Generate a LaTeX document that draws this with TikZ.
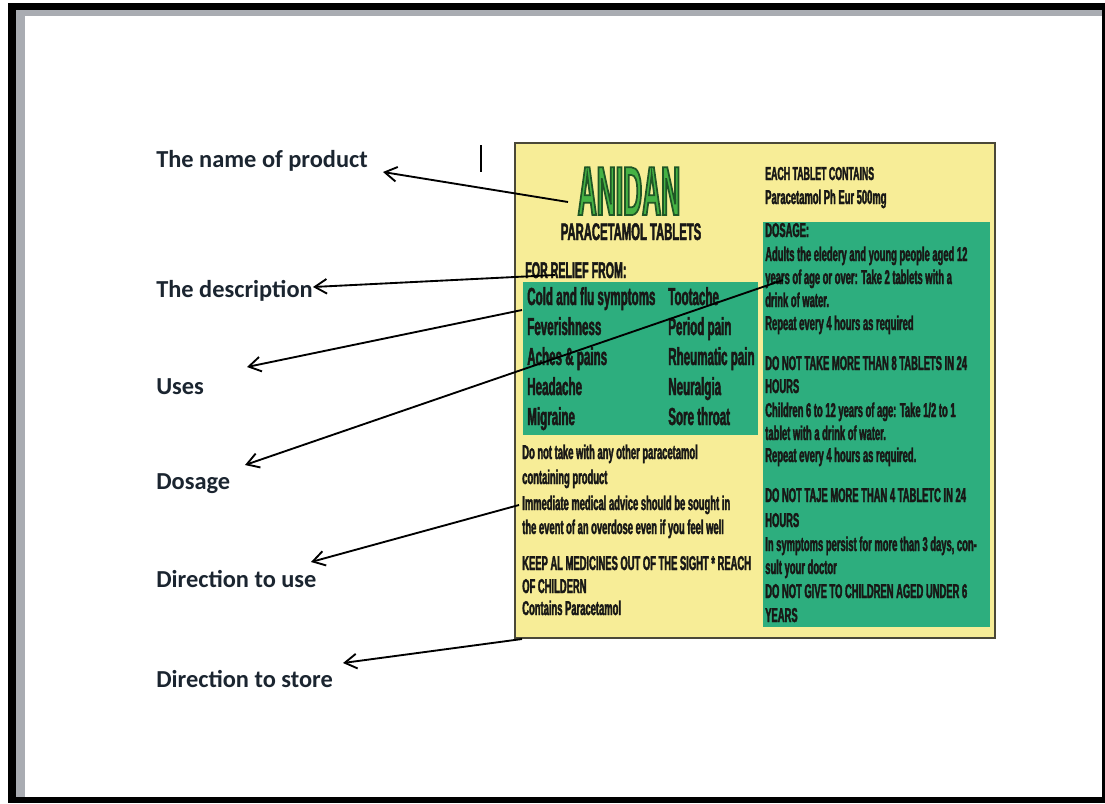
\documentclass[tikz,border=0pt]{standalone}
\usepackage{fontspec}
\setmainfont{Carlito}
\newfontfamily\packfont{Liberation Sans}[FakeStretch=0.47, BoldFeatures={FakeBold=1.8}]
\newfontfamily\brandfont{Liberation Sans}[FakeStretch=0.38]
\usetikzlibrary{arrows.meta}

\definecolor{pagegray}{RGB}{169,172,178}
\definecolor{cardyellow}{RGB}{247,237,151}
\definecolor{cardgreen}{RGB}{45,174,126}
\definecolor{cardedge}{RGB}{74,72,56}
\definecolor{brandgreen}{RGB}{70,178,68}
\definecolor{inkdark}{RGB}{24,24,22}
\definecolor{labelink}{RGB}{27,37,48}

% outlined brand lettering: fill in text colour, dark stroke round it
\newcommand{\outlined}[1]{\special{pdf:code 2 Tr 0.12 0.34 0.15 RG 1.3 w}#1\special{pdf:code 0 Tr}}

\tikzset{
  caption/.style={anchor=base west, inner sep=0pt, text=labelink, font=\bfseries\fontsize{18.3}{22}\selectfont},
  cardtext/.style={anchor=base west, inner sep=0pt, text=inkdark, font=\packfont\bfseries\fontsize{15}{18}\selectfont},
  usetext/.style={anchor=base west, inner sep=0pt, text=inkdark, font=\packfont\bfseries\fontsize{18.5}{22}\selectfont},
  headtext/.style={anchor=base, inner sep=0pt, text=inkdark, font=\packfont\bfseries\fontsize{18}{22}\selectfont},
  brand/.style={anchor=base, inner sep=0pt, text depth=0pt, text=brandgreen, font=\brandfont\bfseries\fontsize{52}{60}\selectfont},
  pointer/.style={line width=1.4pt, -{Straight Barb[length=9pt,width=11pt]}},
}

\begin{document}
\begin{tikzpicture}[x=0.75pt,y=0.75pt,yscale=-1,xscale=1]
\useasboundingbox (0,0) rectangle (1105,803);

%Page frame
\fill[black] (8,3) rectangle (1105,803);
\fill[pagegray] (16,10) rectangle (1102,797);
\fill[white] (25,16) rectangle (1102,797);

%Shape: label card
\draw[cardedge, fill=cardyellow, line width=1.5pt] (515,143) rectangle (995,638);
%Shape: uses panel
\fill[cardgreen] (523,282) rectangle (758,435);
%Shape: dosage panel
\fill[cardgreen] (763,222) rectangle (990,627);

%Cursor mark
\draw[line width=1.6pt] (481,145) -- (481,172);

% Text Node
\draw (629,215) node [brand] (anidan) {\outlined{ANIDAN}};
% Text Node
\draw (631,240) node [headtext] (tablets) {PARACETAMOL TABLETS};
% Text Node
\draw (525,278) node [cardtext, font=\packfont\bfseries\fontsize{17}{20}\selectfont] (relief) {FOR RELIEF FROM:};

% Uses list
\draw (527,305) node [usetext] (cold) {Cold and flu symptoms};
\draw (527,335) node [usetext] (fever) {Feverishness};
\draw (527,365) node [usetext] (aches) {Aches \& pains};
\draw (527,395) node [usetext] (head) {Headache};
\draw (527,425) node [usetext] (migraine) {Migraine};
\draw (668,305) node [usetext] (tooth) {Tootache};
\draw (668,335) node [usetext] (period) {Period pain};
\draw (668,365) node [usetext] (rheum) {Rheumatic pain};
\draw (668,395) node [usetext] (neur) {Neuralgia};
\draw (668,425) node [usetext] (throat) {Sore throat};

% Warnings
\draw (522,459) node [cardtext] (warn1) {Do not take with any other paracetamol};
\draw (522,484) node [cardtext] (warn2) {containing product};
\draw (522,510) node [cardtext] (advice1) {Immediate medical advice should be sought in};
\draw (522,534) node [cardtext] (advice2) {the event of an overdose even if you feel well};
\draw (522,570) node [cardtext] (keep1) {KEEP AL MEDICINES OUT OF THE SIGHT * REACH};
\draw (522,593) node [cardtext] (keep2) {OF CHILDERN};
\draw (522,615) node [cardtext] (contains) {Contains Paracetamol};

% Right column
\draw (765,180) node [cardtext, font=\packfont\bfseries\fontsize{14}{17}\selectfont] (each) {EACH TABLET CONTAINS};
\draw (765,204) node [cardtext] (strength) {Paracetamol Ph Eur 500mg};
\draw (765,237) node [cardtext] (dosehead) {DOSAGE:};
\draw (765,261) node [cardtext] (adult1) {Adults the eledery and young people aged 12};
\draw (765,284) node [cardtext] (adult2) {years of age or over: Take 2 tablets with a};
\draw (765,307) node [cardtext] (adult3) {drink of water.};
\draw (765,330) node [cardtext] (adult4) {Repeat every 4 hours as required};
\draw (765,370) node [cardtext] (max1) {DO NOT TAKE MORE THAN 8 TABLETS IN 24};
\draw (765,393) node [cardtext] (max2) {HOURS};
\draw (765,417) node [cardtext] (child1) {Children 6 to 12 years of age: Take 1/2 to 1};
\draw (765,440) node [cardtext] (child2) {tablet with a drink of water.};
\draw (765,462) node [cardtext] (child3) {Repeat every 4 hours as required.};
\draw (765,502) node [cardtext] (max3) {DO NOT TAJE MORE THAN 4 TABLETC IN 24};
\draw (765,527) node [cardtext] (max4) {HOURS};
\draw (765,551) node [cardtext] (persist1) {In symptoms persist for more than 3 days, con-};
\draw (765,574) node [cardtext] (persist2) {sult your doctor};
\draw (765,598) node [cardtext] (under1) {DO NOT GIVE TO CHILDREN AGED UNDER 6};
\draw (765,622) node [cardtext] (under2) {YEARS};

% Captions
\draw (156,167) node [caption] (name) {The name of product};
\draw (156,297) node [caption] (desc) {The description};
\draw (156,394) node [caption] (uses) {Uses};
\draw (156,489) node [caption] (dosage) {Dosage};
\draw (156,587) node [caption] (diruse) {Direction to use};
\draw (156,687) node [caption] (dirstore) {Direction to store};

% Arrow ends
\coordinate (nametip) at (383,172);
\coordinate (desctip) at (313,287);
\coordinate (usestip) at (247,367);
\coordinate (dosetip) at (245,465);
\coordinate (usedirtip) at (311,562);
\coordinate (storetip) at (343,663);
\coordinate (namefoot) at (568,202);
\coordinate (relieffoot) at (555,275);
\coordinate (listedge) at (522,310);
\coordinate (doseline) at (783,280);
\coordinate (adviceedge) at (519,505);
\coordinate (cardfoot) at (522,639);

% Arrows
\draw[pointer] (namefoot) -- (nametip);
\draw[pointer] (relieffoot) -- (desctip);
\draw[pointer] (listedge) -- (usestip);
\draw[pointer] (doseline) -- (dosetip);
\draw[pointer] (adviceedge) -- (usedirtip);
\draw[pointer] (cardfoot) -- (storetip);

\end{tikzpicture}
\end{document}
